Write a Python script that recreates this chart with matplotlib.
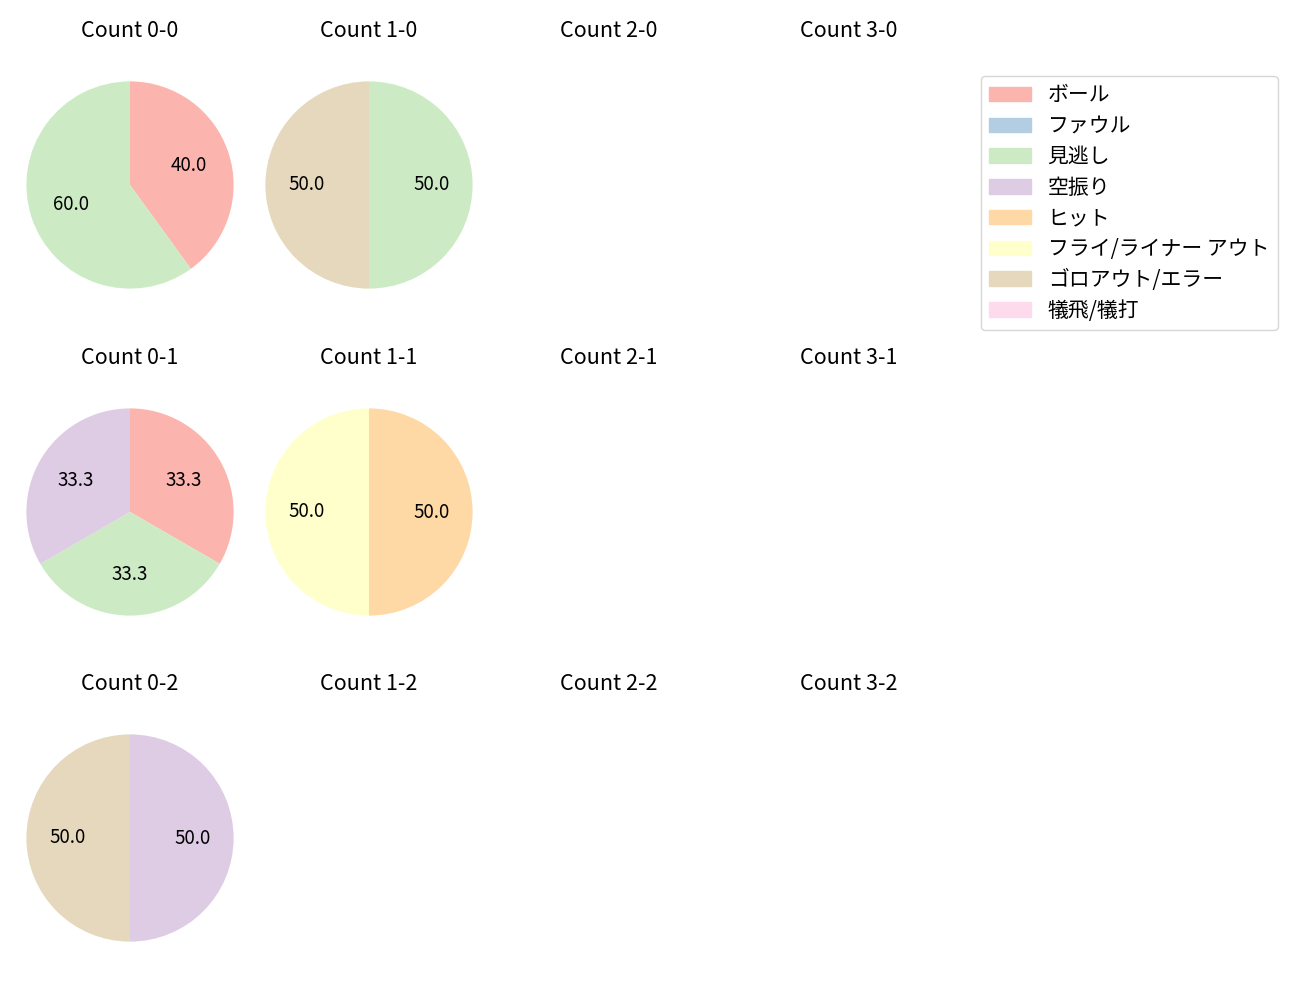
import matplotlib
matplotlib.use("Agg")
import matplotlib.pyplot as plt

plt.rcParams['font.family'] = ['Noto Sans CJK JP', 'DejaVu Sans']
plt.rcParams['font.size'] = 12

labels = ["ボール", "ファウル", "見逃し", "空振り", "ヒット",
          "フライ/ライナー アウト", "ゴロアウト/エラー", "犠飛/犠打"]
colors = plt.cm.Pastel1.colors[:8]

# counts per ball-strike situation, in label order
counts = {
    "0-0": [2, 0, 3, 0, 0, 0, 0, 0],
    "1-0": [0, 0, 1, 0, 0, 0, 1, 0],
    "0-1": [1, 0, 1, 1, 0, 0, 0, 0],
    "1-1": [0, 0, 0, 0, 1, 1, 0, 0],
    "0-2": [0, 0, 0, 1, 0, 0, 1, 0],
}

balls = [0, 1, 2, 3]
strikes = [0, 1, 2]

fig = plt.figure(figsize=(13, 10), dpi=100)
W, H = 1300, 1000
cx = [130, 369, 609, 849]
cy = [185, 512, 838]
side = 259

for r, s in enumerate(strikes):
    for c, b in enumerate(balls):
        key = "%d-%d" % (b, s)
        ax = fig.add_axes([(cx[c] - side / 2) / W, 1 - (cy[r] + side / 2) / H,
                           side / W, side / H])
        ax.set_title("Count " + key, pad=13, fontsize=15.5)
        if key in counts:
            vals = counts[key]
            v = [x for x in vals if x > 0]
            col = [colors[i] for i, x in enumerate(vals) if x > 0]
            ax.pie(v, colors=col, startangle=90, counterclock=False,
                   autopct="%.1f", textprops={'fontsize': 13.5})
        else:
            ax.axis('off')

handles = [plt.Rectangle((0, 0), 1, 1, color=colors[i]) for i in range(8)]
fig.legend(handles, labels, loc='upper left', bbox_to_anchor=(981 / W, 1 - 76 / H),
           borderaxespad=0, fontsize=15, labelspacing=0.42)
fig.savefig("out.png", dpi=100)
